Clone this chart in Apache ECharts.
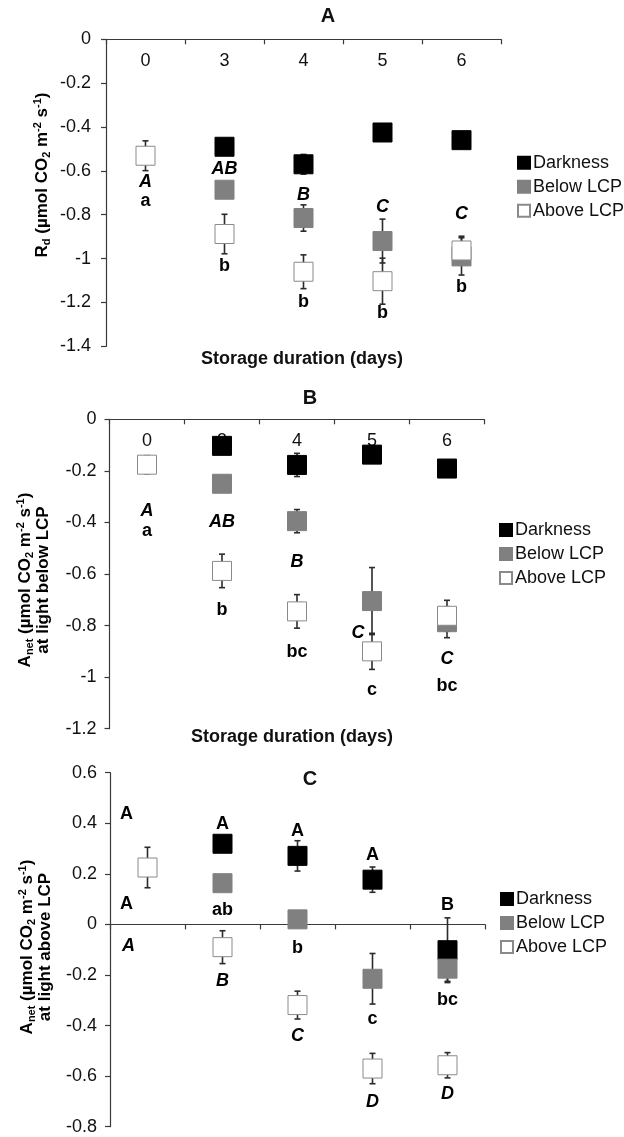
<!DOCTYPE html>
<html>
<head>
<meta charset="utf-8">
<script src="https://cdn.jsdelivr.net/npm/echarts@6/dist/echarts.min.js"></script>
<style>
  html, body { margin: 0; padding: 0; background: #fff; }
  #chart { width: 624px; height: 1137px; }
</style>
</head>
<body>
<div id="chart"></div>
<script>
// Storage duration categories (days)
const days = ['0', '3', '4', '5', '6'];
const groupNames = ['Darkness', 'Below LCP', 'Above LCP'];

// Panel A: dark respiration Rd (µmol CO2 m-2 s-1), means and error
const rdDark       = [null, -0.49, -0.57, -0.425, -0.46];
const rdDarkErr    = [null, 0.02, 0.045, 0, 0];
const rdBelow      = [null, -0.686, -0.815, -0.92, -0.99];
const rdBelowErr   = [null, 0.02, 0.06, 0.10, 0.085];
const rdAbove      = [-0.531, -0.888, -1.06, -1.103, -0.963];
const rdAboveErr   = [0.068, 0.09, 0.077, 0.105, 0.065];

// Panel B: Anet at light below LCP
const lowDark      = [null, -0.103, -0.177, -0.137, -0.191];
const lowDarkErr   = [null, 0.02, 0.045, 0, 0];
const lowBelow     = [null, -0.25, -0.395, -0.705, -0.787];
const lowBelowErr  = [null, 0.03, 0.045, 0.13, 0.06];
const lowAbove     = [-0.176, -0.588, -0.745, -0.9, -0.762];
const lowAboveErr  = [0.035, 0.065, 0.065, 0.07, 0.06];

// Panel C: Anet at light above LCP
const highDark     = [null, 0.319, 0.271, 0.177, -0.102];
const highDarkErr  = [null, 0, 0.06, 0.05, 0.128];
const highBelow    = [null, 0.163, 0.02, -0.215, -0.175];
const highBelowErr = [null, 0, 0, 0.1, 0.05];
const highAbove    = [0.225, -0.09, -0.319, -0.57, -0.557];
const highAboveErr = [0.08, 0.065, 0.055, 0.06, 0.05];

// Significance letters: [day index, value on y axis, text, italic]
const lettersA = [
  [0, -0.651, 'A', true], [0, -0.736, 'a', false],
  [1, -0.593, 'AB', true], [1, -1.034, 'b', false],
  [2, -0.71, 'B', true], [2, -1.197, 'b', false],
  [3, -0.763, 'C', true], [3, -1.248, 'b', false],
  [4, -0.797, 'C', true], [4, -1.128, 'b', false]
];
const lettersB = [
  [0, -0.356, 'A', true], [0, -0.433, 'a', false],
  [1, -0.4, 'AB', true], [1, -0.74, 'b', false],
  [2, -0.552, 'B', true], [2, -0.901, 'bc', false],
  [3, -0.83, 'C', true], [3, -1.05, 'c', false],
  [4, -0.931, 'C', true], [4, -1.035, 'bc', false]
];
const lettersC = [
  [0, 0.4375, 'A', false], [0, 0.079, 'A', false], [0, -0.087, 'A', true],
  [1, 0.398, 'A', false], [1, 0.058, 'ab', false], [1, -0.225, 'B', true],
  [2, 0.368, 'A', false], [2, -0.092, 'b', false], [2, -0.443, 'C', true],
  [3, 0.273, 'A', false], [3, -0.373, 'c', false], [3, -0.702, 'D', true],
  [4, 0.075, 'B', false], [4, -0.298, 'bc', false], [4, -0.672, 'D', true]
];
// Horizontal pixel shifts for letters set beside (not under) their marks
const letterShift = [
  {},
  { 6: -14 },
  { 0: -21, 1: -21, 2: -19 }
];

const FONT = '"Liberation Sans", Arial, Helvetica, sans-serif';
const AXIS_COLOR = '#3a3a3a';
const markStyles = [
  { color: '#000000', borderColor: '#000000', borderWidth: 1, opacity: 1 },
  { color: '#808080', borderColor: '#808080', borderWidth: 1, opacity: 1 },
  { color: '#ffffff', borderColor: '#8a8a8a', borderWidth: 1, opacity: 1 }
];

const chart = echarts.init(document.getElementById('chart'), null, { renderer: 'canvas' });

const grids = [
  { left: 106, top: 39.3, width: 395, height: 307 },
  { left: 109.5, top: 419.3, width: 375, height: 309.4 },
  { left: 110, top: 772.7, width: 375, height: 354 }
];

const yRanges = [[-1.4, 0], [-1.2, 0], [-0.8, 0.6]];

const xAxes = grids.map((g, i) => {
  const isC = i === 2;
  return {
    gridIndex: i,
    type: 'category',
    data: days,
    boundaryGap: true,
    position: isC ? 'bottom' : 'top',
    axisLine: { show: true, onZero: isC, lineStyle: { color: AXIS_COLOR, width: 1.2 } },
    axisTick: { show: true, inside: !isC, length: 5, lineStyle: { color: AXIS_COLOR, width: 1.2 } },
    axisLabel: {
      show: !isC, inside: true, margin: 13,
      fontSize: 18, fontFamily: FONT, color: '#111'
    },
    splitLine: { show: false }
  };
});

const yAxes = grids.map((g, i) => ({
  gridIndex: i,
  type: 'value',
  min: yRanges[i][0],
  max: yRanges[i][1],
  interval: 0.2,
  axisLine: { show: true, onZero: false, lineStyle: { color: AXIS_COLOR, width: 1.2 } },
  axisTick: { show: true, length: 5, lineStyle: { color: AXIS_COLOR, width: 1.2 } },
  axisLabel: {
    margin: i === 0 ? 15 : 13,
    fontSize: 18, fontFamily: FONT, color: '#111',
    formatter: v => String(+v.toFixed(1))
  },
  splitLine: { show: false }
}));

function errorBars(gi, vals, errs) {
  const data = [];
  vals.forEach((v, k) => {
    if (v != null && errs[k]) data.push([k, v, errs[k]]);
  });
  return {
    type: 'custom',
    xAxisIndex: gi, yAxisIndex: gi,
    silent: true, z: 2,
    data: data,
    renderItem: (params, api) => {
      const x = api.coord([api.value(0), 0])[0];
      const v = api.value(1), e = api.value(2);
      const yTop = api.coord([api.value(0), v + e])[1];
      const yBot = api.coord([api.value(0), v - e])[1];
      const st = { stroke: '#2b2b2b', lineWidth: 1.6 };
      return {
        type: 'group',
        children: [
          { type: 'line', shape: { x1: x, y1: yTop, x2: x, y2: yBot }, style: st },
          { type: 'line', shape: { x1: x - 3, y1: yTop, x2: x + 3, y2: yTop }, style: st },
          { type: 'line', shape: { x1: x - 3, y1: yBot, x2: x + 3, y2: yBot }, style: st }
        ]
      };
    }
  };
}

function marks(gi, name, vals, styleIdx) {
  return {
    type: 'scatter',
    name: name,
    xAxisIndex: gi, yAxisIndex: gi,
    symbol: 'rect',
    symbolSize: 19,
    z: 3,
    itemStyle: markStyles[styleIdx],
    emphasis: { disabled: true },
    data: vals.map((v, k) => [k, v]).filter(d => d[1] != null)
  };
}

function letters(gi, list) {
  const shift = letterShift[gi];
  return {
    type: 'custom',
    xAxisIndex: gi, yAxisIndex: gi,
    silent: true, z: 5,
    data: list.map(l => [l[0], l[1]]),
    renderItem: (params, api) => {
      const item = list[params.dataIndex];
      const p = api.coord([api.value(0), api.value(1)]);
      const dx = shift[params.dataIndex] || 0;
      return {
        type: 'text',
        x: p[0] + dx, y: p[1],
        style: {
          text: item[2],
          fontFamily: FONT, fontSize: 18, fontWeight: 'bold',
          fontStyle: item[3] ? 'italic' : 'normal',
          fill: '#000', align: 'center', verticalAlign: 'middle'
        }
      };
    }
  };
}

const panels = [
  [rdDark, rdDarkErr, rdBelow, rdBelowErr, rdAbove, rdAboveErr, lettersA],
  [lowDark, lowDarkErr, lowBelow, lowBelowErr, lowAbove, lowAboveErr, lettersB],
  [highDark, highDarkErr, highBelow, highBelowErr, highAbove, highAboveErr, lettersC]
];

const series = [];
panels.forEach((p, gi) => {
  series.push(errorBars(gi, p[0], p[1]));
  series.push(errorBars(gi, p[2], p[3]));
  series.push(errorBars(gi, p[4], p[5]));
  series.push(marks(gi, groupNames[0], p[0], 0));
  series.push(marks(gi, groupNames[1], p[2], 1));
  series.push(marks(gi, groupNames[2], p[4], 2));
  series.push(letters(gi, p[6]));
});

const legendTops = [153.7, 521, 890];
const legendLefts = [517, 499, 500];
const legends = legendTops.map((t, i) => ({
  orient: 'vertical',
  left: legendLefts[i], top: t,
  padding: 0,
  itemWidth: 12, itemHeight: 12, itemGap: 6,
  icon: 'rect',
  selectedMode: false,
  textStyle: { fontSize: 18, fontFamily: FONT, color: '#111', padding: [0, 0, 0, -2] },
  data: groupNames
}));

// Rich text pieces for the y-axis names
const nameRich = {
  m:  { fontSize: 17, fontWeight: 'bold', fontFamily: FONT, color: '#111', lineHeight: 20, verticalAlign: 'middle' },
  m2: { fontSize: 17, fontWeight: 'bold', fontFamily: FONT, color: '#111', lineHeight: 15, verticalAlign: 'middle' },
  sub:{ fontSize: 11, fontWeight: 'bold', fontFamily: FONT, color: '#111', lineHeight: 11, verticalAlign: 'bottom' },
  sup:{ fontSize: 11, fontWeight: 'bold', fontFamily: FONT, color: '#111', lineHeight: 11, verticalAlign: 'top' }
};
const unitsText = '{m| (µmol CO}{sub|2}{m| m}{sup|-2}{m| s}{sup|-1}{m|)}';

function vText(x, y, text) {
  return {
    type: 'text', x: x, y: y, rotation: Math.PI / 2, silent: true,
    style: { text: text, rich: nameRich, align: 'center', verticalAlign: 'middle' }
  };
}
function hText(x, y, text, size) {
  return {
    type: 'text', x: x, y: y, silent: true,
    style: {
      text: text, fontFamily: FONT, fontSize: size, fontWeight: 'bold', fill: '#111',
      align: 'center', verticalAlign: 'middle'
    }
  };
}

const graphics = [
  hText(328, 16, 'A', 20),
  hText(310, 398, 'B', 20),
  hText(310, 779, 'C', 20),
  hText(302, 359, 'Storage duration (days)', 18),
  hText(292, 737, 'Storage duration (days)', 18),
  vText(42, 175, '{m|R}{sub|d}' + unitsText),
  vText(33, 580, '{m|A}{sub|net}' + unitsText + '\n{m2|at light below LCP}'),
  vText(35, 947, '{m|A}{sub|net}' + unitsText + '\n{m2|at light above LCP}')
];

chart.setOption({
  animation: false,
  backgroundColor: '#ffffff',
  grid: grids,
  xAxis: xAxes,
  yAxis: yAxes,
  legend: legends,
  series: series,
  graphic: graphics
});
</script>
</body>
</html>
